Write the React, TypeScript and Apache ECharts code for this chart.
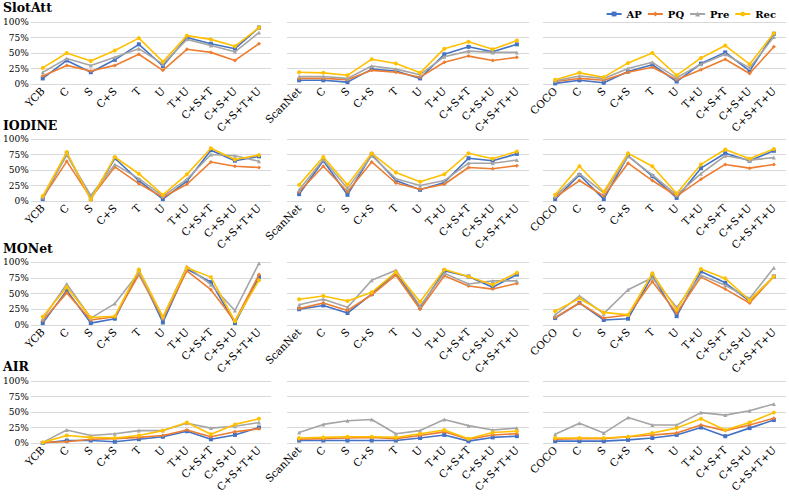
import React, { useEffect, useRef } from "react";
import * as echarts from "echarts";

// Categories (x-axis tick labels) per dataset column
const catsYCB = ["YCB", "C", "S", "C+S", "T", "U", "T+U", "C+S+T", "C+S+U", "C+S+T+U"];
const catsScanNet = ["ScanNet", "C", "S", "C+S", "T", "U", "T+U", "C+S+T", "C+S+U", "C+S+T+U"];
const catsCOCO = ["COCO", "C", "S", "C+S", "T", "U", "T+U", "C+S+T", "C+S+U", "C+S+T+U"];

const metrics = ["AP", "PQ", "Pre", "Rec"];
const models = ["SlotAtt", "IODINE", "MONet", "AIR"];
const yTicks = [0, 25, 50, 75, 100];

// Each panel: rows are AP, PQ, Pre, Rec (values in %)
const slotAttYCB = [
  [9, 38, 19, 39, 64, 29, 75, 65, 57, 91],
  [13, 30, 21, 30, 48, 22, 56, 51, 38, 65],
  [19, 41, 30, 43, 57, 32, 72, 62, 52, 83],
  [26, 50, 37, 54, 74, 36, 78, 72, 61, 91],
];
const slotAttScanNet = [
  [6, 6, 3, 24, 21, 9, 48, 60, 52, 64],
  [9, 9, 7, 22, 19, 11, 35, 45, 38, 43],
  [12, 12, 9, 29, 24, 15, 44, 53, 51, 51],
  [19, 18, 14, 40, 33, 18, 57, 68, 56, 70],
];
const slotAttCOCO = [
  [1, 6, 2, 20, 31, 4, 33, 51, 21, 81],
  [4, 9, 6, 19, 27, 7, 23, 40, 17, 60],
  [5, 13, 9, 25, 35, 10, 32, 48, 26, 76],
  [7, 18, 11, 34, 50, 14, 42, 62, 32, 82],
];
const iodineYCB = [
  [3, 77, 3, 69, 33, 3, 32, 82, 65, 72],
  [5, 64, 5, 55, 28, 6, 27, 63, 56, 54],
  [6, 74, 9, 59, 36, 8, 35, 75, 73, 64],
  [8, 79, 2, 71, 44, 10, 43, 85, 67, 74],
];
const iodineScanNet = [
  [11, 65, 10, 75, 33, 18, 30, 69, 65, 76],
  [15, 56, 15, 63, 29, 19, 27, 54, 52, 57],
  [18, 67, 20, 73, 36, 25, 33, 61, 61, 66],
  [26, 71, 26, 77, 46, 31, 43, 77, 68, 80],
];
const iodineCOCO = [
  [3, 42, 3, 73, 40, 5, 53, 77, 65, 81],
  [6, 33, 8, 61, 33, 8, 35, 59, 53, 59],
  [8, 44, 13, 72, 42, 10, 44, 73, 66, 70],
  [10, 56, 15, 77, 56, 12, 59, 83, 68, 84],
];
const monetYCB = [
  [3, 55, 3, 10, 85, 4, 89, 68, 3, 76],
  [7, 51, 8, 13, 80, 10, 86, 56, 6, 80],
  [10, 65, 11, 34, 83, 12, 93, 64, 23, 98],
  [13, 60, 12, 14, 88, 13, 91, 76, 6, 71],
];
const monetScanNet = [
  [25, 31, 19, 49, 83, 28, 86, 77, 60, 80],
  [26, 35, 23, 48, 79, 25, 78, 62, 57, 66],
  [32, 41, 28, 71, 87, 30, 82, 65, 70, 70],
  [41, 46, 38, 52, 84, 37, 88, 77, 64, 83],
];
const monetCOCO = [
  [11, 35, 8, 10, 78, 14, 85, 67, 38, 77],
  [12, 35, 11, 16, 69, 19, 76, 57, 35, 77],
  [16, 46, 18, 56, 75, 28, 79, 63, 42, 91],
  [22, 42, 20, 16, 82, 24, 89, 74, 39, 77],
];
const airYCB = [
  [0, 4, 4, 2, 6, 10, 19, 6, 13, 25],
  [1, 2, 6, 7, 9, 12, 21, 10, 18, 23],
  [1, 21, 12, 15, 20, 20, 32, 24, 27, 33],
  [1, 12, 9, 8, 12, 20, 33, 14, 30, 39],
];
const airScanNet = [
  [4, 4, 4, 4, 4, 8, 13, 3, 9, 11],
  [6, 7, 8, 9, 7, 12, 18, 6, 13, 15],
  [17, 30, 36, 38, 15, 20, 38, 28, 21, 24],
  [8, 9, 10, 10, 9, 15, 21, 7, 17, 19],
];
const airCOCO = [
  [3, 3, 3, 5, 8, 13, 25, 11, 24, 37],
  [6, 7, 7, 10, 13, 16, 29, 20, 29, 40],
  [14, 32, 16, 41, 29, 29, 49, 45, 52, 63],
  [8, 8, 8, 10, 16, 24, 39, 21, 33, 49],
];

const panelData = [
  [slotAttYCB, slotAttScanNet, slotAttCOCO],
  [iodineYCB, iodineScanNet, iodineCOCO],
  [monetYCB, monetScanNet, monetCOCO],
  [airYCB, airScanNet, airCOCO],
];
const panelCats = [catsYCB, catsScanNet, catsCOCO];

const COLORS = ["#4472C4", "#ED7D31", "#A5A5A5", "#FFC000"];
const SYMBOLS = ["rect", "diamond", "triangle", "circle"];
const FONT = "DejaVu Serif";

const ROW_TOP = [22, 139, 262, 381];
const ROW_H = [62, 62, 63, 62];
const TITLE_TOP = [1, 119, 242, 360];
const COL_LEFT = [28, 287, 543];
const COL_W = [243, 242, 243];

export default function App() {
  const ref = useRef<HTMLDivElement>(null);
  useEffect(() => {
    if (!ref.current) return;
    const chart = echarts.init(ref.current, undefined, { renderer: "svg" });
    const grid: any[] = [];
    const xAxis: any[] = [];
    const yAxis: any[] = [];
    const series: any[] = [];
    let idx = 0;
    for (let r = 0; r < 4; r++) {
      for (let c = 0; c < 3; c++) {
        grid.push({ left: COL_LEFT[c], top: ROW_TOP[r], width: COL_W[c], height: ROW_H[r] });
        xAxis.push({
          type: "category",
          gridIndex: idx,
          data: panelCats[c],
          boundaryGap: true,
          axisLine: { show: false },
          axisTick: { show: false },
          axisLabel: {
            interval: 0,
            rotate: 45,
            margin: 5,
            fontFamily: FONT,
            fontSize: 10.5,
            color: "#000",
          },
        });
        yAxis.push({
          type: "value",
          gridIndex: idx,
          min: yTicks[0],
          max: yTicks[yTicks.length - 1],
          interval: 25,
          axisLine: { show: false },
          axisTick: { show: false },
          splitLine: { show: true, lineStyle: { color: "#d9d9d9", width: 1 } },
          axisLabel: {
            show: c === 0,
            formatter: "{value}%",
            margin: 2,
            fontFamily: FONT,
            fontSize: 9,
            color: "#000",
          },
        });
        const data = panelData[r][c];
        for (let m = 0; m < 4; m++) {
          series.push({
            type: "line",
            name: metrics[m],
            xAxisIndex: idx,
            yAxisIndex: idx,
            data: data[m],
            symbol: SYMBOLS[m],
            symbolSize: 4,
            showSymbol: true,
            lineStyle: { color: COLORS[m], width: 1.6 },
            itemStyle: { color: COLORS[m] },
            z: 2 + m,
          });
        }
        idx++;
      }
    }
    chart.setOption({
      animation: false,
      backgroundColor: "#fff",
      textStyle: { fontFamily: FONT },
      title: models.map((m, i) => ({
        text: m,
        left: 3,
        top: TITLE_TOP[i],
        padding: 0,
        textStyle: { fontFamily: FONT, fontWeight: "bold", fontSize: 12.5, color: "#000" },
      })),
      legend: {
        data: metrics,
        right: 8,
        top: 4,
        itemGap: 5,
        itemWidth: 15,
        itemHeight: 6,
        textStyle: { fontFamily: FONT, fontWeight: "bold", fontSize: 10, color: "#000" },
      },
      grid,
      xAxis,
      yAxis,
      series,
    });
    return () => chart.dispose();
  }, []);
  return (
    <div
      ref={ref}
      style={{ position: "absolute", left: 0, top: 0, width: 789, height: 502, background: "#fff" }}
    />
  );
}
